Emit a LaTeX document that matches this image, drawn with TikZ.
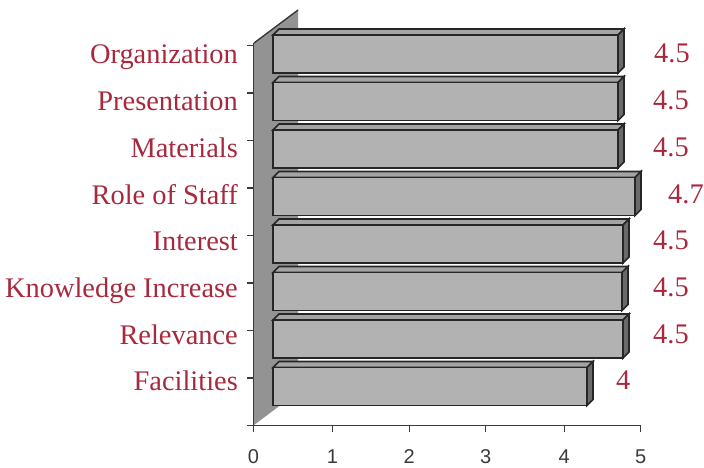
\documentclass[tikz,border=0pt]{standalone}
\usepackage{fontspec}
\setmainfont{Liberation Serif}
\newfontfamily\axisfont{Liberation Sans}
\definecolor{labred}{HTML}{A8283E}
\definecolor{wallgray}{HTML}{939393}
\definecolor{frontgray}{HTML}{B2B2B2}
\definecolor{topgray}{HTML}{A4A4A4}
\definecolor{sidegray}{HTML}{6A6A6A}
\definecolor{edgecol}{HTML}{262626}
\definecolor{axiscol}{HTML}{3A3A3A}
\tikzset{
  edge/.style={draw=edgecol, line width=1.6pt, line join=miter},
  axisline/.style={draw=axiscol, line width=1.4pt},
  catlabel/.style={anchor=base east, text=labred, inner sep=0pt, font=\fontsize{28.4}{31}\selectfont},
  vallabel/.style={anchor=base west, text=labred, inner sep=0pt, font=\fontsize{28.4}{31}\selectfont},
  ticklabel/.style={anchor=base, text=axiscol, inner sep=0pt, font=\axisfont\fontsize{20}{22}\selectfont}
}
\begin{document}
\begin{tikzpicture}[x=1pt,y=-1pt]
\useasboundingbox (0,0) rectangle (704,468);
% back wall
\fill[wallgray] (254,43) -- (298,10) -- (298,392) -- (254,425) -- cycle;
\draw[axisline] (254,43) -- (298,10);
% axes
\draw[axisline] (253.5,43) -- (253.5,432);
\draw[axisline] (247,425.5) -- (641,425.5);
\foreach \k in {0,...,7} {
  \draw[axisline] (247,45.5+47.5*\k) -- (253.5,45.5+47.5*\k);
}
\foreach \v/\px in {0/253.5,1/332.5,2/409.3,3/485.7,4/564.3,5/640.7} {
  \draw[axisline] (\px,425.5) -- (\px,432);
  \node[ticklabel] (tick\v) at (\px,463) {\v};
}
% bars
\foreach \k/\r/\cat/\val/\vx in {
  0/618/Organization/4.5/654,
  1/618/Presentation/4.5/653,
  2/618/Materials/4.5/653,
  3/635/Role of Staff/4.7/668,
  4/623/Interest/4.5/653,
  5/622/Knowledge Increase/4.5/653,
  6/623/Relevance/4.5/653,
  7/587/Facilities/4/616} {
  \pgfmathsetmacro\t{35+47.5*\k}
  \path[edge, fill=topgray] (273,\t) -- (279,\t-6) -- (\r+6,\t-6) -- (\r,\t) -- cycle;
  \path[edge, fill=sidegray] (\r,\t) -- (\r+6,\t-6) -- (\r+6,\t+32) -- (\r,\t+38) -- cycle;
  \path[edge, fill=frontgray] (273,\t) rectangle (\r,\t+38);
  \node[catlabel] (cat\k) at (238,64+46.7*\k) {\cat};
  \node[vallabel] (val\k) at (\vx,63+46.7*\k) {\val};
}
\end{tikzpicture}
\end{document}
